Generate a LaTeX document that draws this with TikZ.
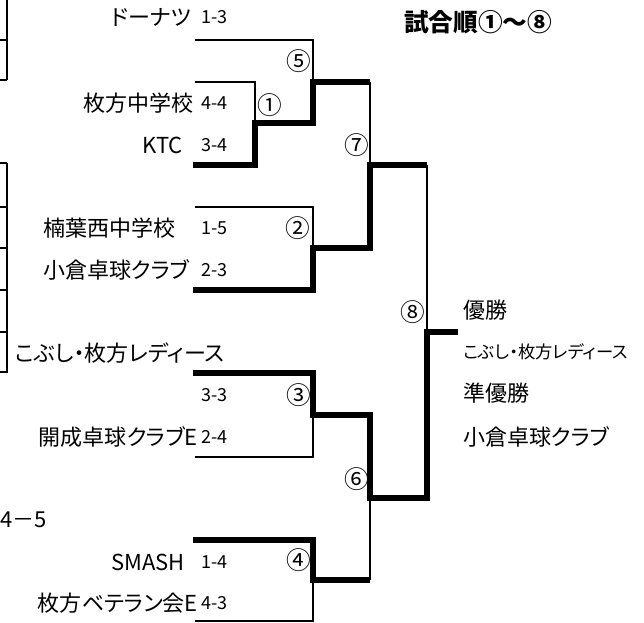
\documentclass[tikz,border=0pt]{standalone}
\usepackage{fontspec}
\setmainfont{Noto Sans CJK JP}[RawFeature=+palt]
\newfontfamily\jpfull{Noto Sans CJK JP}
\usetikzlibrary{calc}

\begin{document}
\begin{tikzpicture}[x=0.75pt, y=-0.75pt]

    % Page frame
    \useasboundingbox (0,0) rectangle (644,623);

    % Texts
    \tikzset{tN/.style={inner sep = 0pt, font = \fontsize{16.5}{18}\selectfont}}
    \tikzset{scr/.style={inner sep = 0pt, anchor = west, font = \fontsize{13.5}{15}\selectfont}}
    \tikzset{mN/.style={inner sep = 0pt, font = \jpfull\fontsize{18.5}{20}\selectfont}}
    \tikzset{rT/.style={inner sep = 0pt, anchor = west, font = \fontsize{16.5}{18}\selectfont}}
    \tikzset{rTs/.style={inner sep = 0pt, anchor = west, font = \fontsize{13}{15}\selectfont}}

    % Branches
    \tikzset{Bn/.style={line width = 1.3pt, draw = black}}
    \tikzset{Bw/.style={line width = 4pt, draw = black}}

    % Title
    \node (title) [inner sep = 0pt, font = \bfseries\fontsize{18.5}{20}\selectfont] at (478,22) {試合順①～⑧};

    % Teams
    \node (tDo) [tN, anchor = east] at (192,17) {ドーナツ};
    \node (tHi) [tN, anchor = east] at (194,103) {枚方中学校};
    \node (tKt) [tN, anchor = east] at (183,145) {KTC};
    \node (tKu) [tN, anchor = west] at (43,228) {楠葉西中学校};
    \node (tOg) [tN, anchor = west] at (43,270) {小倉卓球クラブ};
    \node (tKo) [tN, anchor = west] at (15,353) {こぶし・枚方レディース};
    \node (tKa) [tN, anchor = east] at (198,437) {開成卓球クラブE};
    \node (tSm) [tN, anchor = east] at (185,562) {SMASH};
    \node (tBe) [tN, anchor = east] at (198,603) {枚方ベテラン会E};
    \node (tFs) [tN, anchor = west] at (0,520) {4－5};

    % Scores
    \node (sDo) [scr] at (201,17) {1-3};
    \node (sHi) [scr] at (201,103) {4-4};
    \node (sKt) [scr] at (201,145) {3-4};
    \node (sKu) [scr] at (201,228) {1-5};
    \node (sOg) [scr] at (201,270) {2-3};
    \node (sKo) [scr] at (201,395) {3-3};
    \node (sKa) [scr] at (201,437) {2-4};
    \node (sSm) [scr] at (201,562) {1-4};
    \node (sBe) [scr] at (201,603) {4-3};

    % Match numbers
    \node (n1) [mN] at (270,105) {①};
    \node (n2) [mN] at (298,228) {②};
    \node (n3) [mN] at (299,395) {③};
    \node (n4) [mN] at (299,560) {④};
    \node (n5) [mN] at (299,61) {⑤};
    \node (n6) [mN] at (357,479) {⑥};
    \node (n7) [mN] at (357,145) {⑦};
    \node (n8) [mN] at (413,312) {⑧};

    % Results
    \node (win) [rT] at (463,310) {優勝};
    \node (winT) [rTs] at (463,352) {こぶし・枚方レディース};
    \node (run) [rT] at (463,393) {準優勝};
    \node (runT) [rT] at (463,437) {小倉卓球クラブ};

    % Bracket points
    \coordinate (dL) at (195,40);
    \coordinate (hL) at (195,82);
    \coordinate (kL) at (193,165);
    \coordinate (kuL) at (195,207);
    \coordinate (oL) at (193,290);
    \coordinate (koL) at (193,373);
    \coordinate (kaL) at (195,457);
    \coordinate (sL) at (193,540);
    \coordinate (bL) at (195,621);
    \coordinate (g1) at (255,123);
    \coordinate (g5) at (313,82);
    \coordinate (g2) at (313,248);
    \coordinate (g7) at (370,165);
    \coordinate (g3) at (313,415);
    \coordinate (g4) at (313,580);
    \coordinate (g6) at (370,498);
    \coordinate (g8) at (427,332);
    \coordinate (fin) at (458,332);

    % Lost branches
    \path[Bn] (dL) -| (g5);
    \path[Bn] (hL) -| (g1);
    \path[Bn] (kuL) -| (g2);
    \path[Bn] (kaL) -| (g3);
    \path[Bn] (bL) -| (g4);
    \path[Bn] (g5 -| g7) -- (g7);
    \path[Bn] (g7 -| g8) -- (g8);
    \path[Bn] (g4 -| g6) -- (g6);

    % Won branches
    \path[Bw] (kL) -| (g1) -| (g5) -- (g5 -| g7);
    \path[Bw] (oL) -| (g2) -| (g7) -- (g7 -| g8);
    \path[Bw] (koL) -| (g3) -| (g6) -| (g8) -- (fin);
    \path[Bw] (sL) -| (g4) -- (g4 -| g6);

    % Table edge
    \draw[Bn] (0,40) -- (7,40) (0,80) -- (7,80) (7,0) -- (7,80);
    \draw[Bn] (7,163) -- (7,373);
    \foreach \yy in {163,207,248,290,332,372}
        \draw[Bn] (0,\yy) -- (7,\yy);

\end{tikzpicture}
\end{document}
